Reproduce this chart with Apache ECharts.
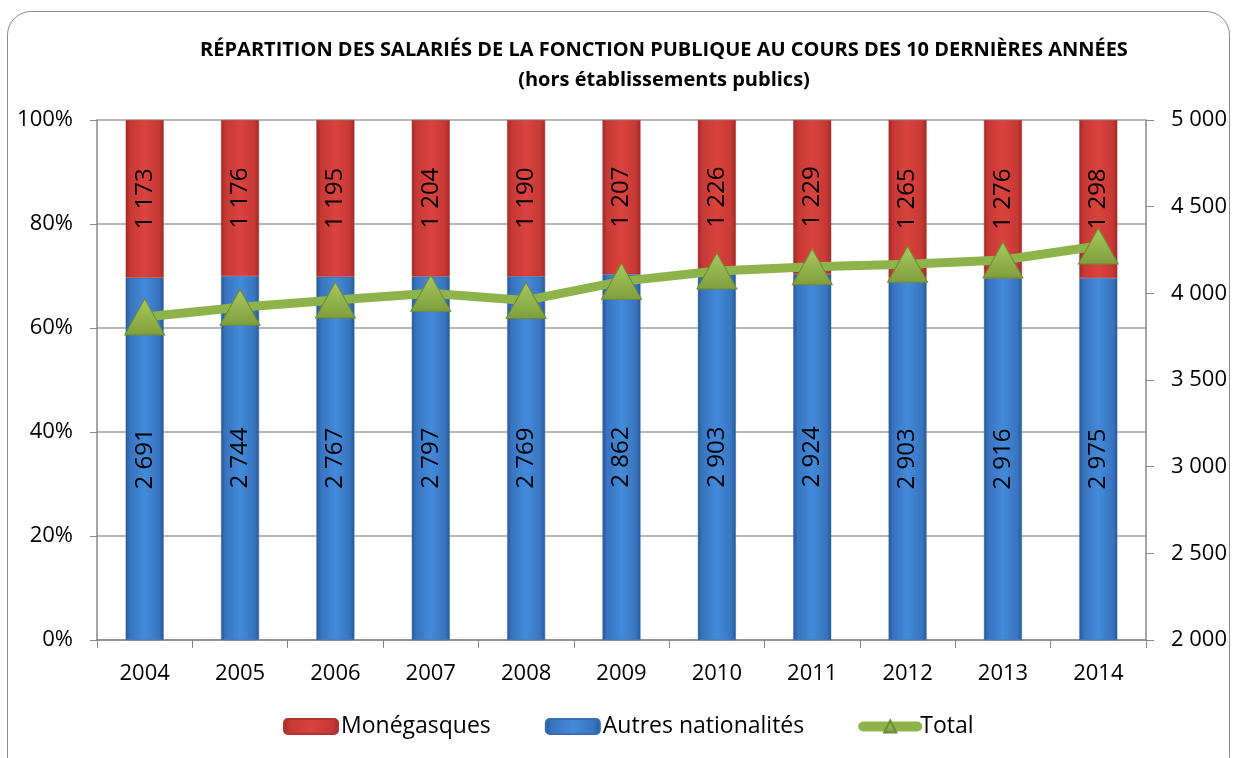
<!DOCTYPE html>
<html>
<head>
<meta charset="utf-8">
<script src="https://cdn.jsdelivr.net/npm/echarts@6/dist/echarts.min.js"></script>
<style>
  html, body { margin: 0; padding: 0; background: #fff; }
  #frame { position: absolute; left: 7px; top: 11px; width: 1223px; height: 770px;
           border: 1.5px solid #8c8c8c; border-radius: 24px; box-sizing: border-box; }
  #main { position: absolute; left: 0; top: 0; width: 1235px; height: 758px; }
</style>
</head>
<body>
<div id="frame"></div>
<div id="main"></div>
<script>
// données
var annees = ['2004', '2005', '2006', '2007', '2008', '2009', '2010', '2011', '2012', '2013', '2014'];
var monegasques = [1173, 1176, 1195, 1204, 1190, 1207, 1226, 1229, 1265, 1276, 1298];
var autres = [2691, 2744, 2767, 2797, 2769, 2862, 2903, 2924, 2903, 2916, 2975];

(function() {
	var total = [], partMon = [], partAutres = [];
	for (var i = 0; i < annees.length; i++) {
		total[i] = monegasques[i] + autres[i];
		partMon[i] = monegasques[i] / total[i] * 100;
		partAutres[i] = autres[i] / total[i] * 100;
	}

	//format "1 173"
	function espace(v) {
		return String(Math.round(v)).replace(/\B(?=(\d{3})+(?!\d))/g, ' ');
	}

	function barre(dark, mid, light) {
		return new echarts.graphic.LinearGradient(0, 0, 1, 0, [
			{ offset: 0, color: dark },
			{ offset: 0.12, color: mid },
			{ offset: 0.5, color: light },
			{ offset: 0.88, color: mid },
			{ offset: 1, color: dark }
		]);
	}

	var police = 'Open Sans';
	var chart = echarts.init(document.getElementById('main'));
	chart.setOption({
		backgroundColor: 'transparent',
		animation: false,
		title: {
			text: 'RÉPARTITION DES SALARIÉS DE LA FONCTION PUBLIQUE AU COURS DES 10 DERNIÈRES ANNÉES\n(hors établissements publics)',
			left: 659,
			top: 30,
			textAlign: 'center',
			textStyle: { fontFamily: police, fontWeight: 'bold', fontSize: 20, lineHeight: 30, color: '#000' }
		},
		legend: {
			top: 710,
			left: 278,
			itemGap: 54,
			itemWidth: 54,
			itemHeight: 15,
			textStyle: { fontFamily: police, fontSize: 23, color: '#000', padding: [0, 0, 0, -2] },
			data: [
				{ name: 'Monégasques' },
				{ name: 'Autres nationalités' },
				{ name: 'Total', lineStyle: { width: 10, cap: 'round' } }
			]
		},
		grid: { left: 97, right: 89, top: 120, bottom: 118 },
		xAxis: {
			type: 'category',
			data: annees,
			axisLine: { lineStyle: { color: '#888', width: 1.5 } },
			axisTick: { show: true, length: 8, lineStyle: { color: '#888' } },
			axisLabel: { fontFamily: police, fontSize: 22, color: '#000', margin: 23 }
		},
		yAxis: [{
			type: 'value',
			min: 0, max: 100, interval: 20,
			axisLine: { show: true, lineStyle: { color: '#888', width: 1.5 } },
			axisTick: { show: true, length: 7, lineStyle: { color: '#888' } },
			splitLine: { lineStyle: { color: '#a0a0a0', width: 1.5 } },
			axisLabel: { fontFamily: police, fontSize: 22, color: '#000', margin: 24, formatter: '{value}%' }
		}, {
			type: 'value',
			min: 2000, max: 5000, interval: 500,
			position: 'right',
			axisLine: { show: true, lineStyle: { color: '#888', width: 1.5 } },
			axisTick: { show: true, inside: false, length: 8, lineStyle: { color: '#888' } },
			splitLine: { show: false },
			axisLabel: { fontFamily: police, fontSize: 22, color: '#000', margin: 25, formatter: espace }
		}],
		series: [{
			name: 'Autres nationalités',
			type: 'bar',
			stack: 'p',
			barWidth: 38,
			data: partAutres,
			itemStyle: { color: barre('#285896', '#3874c0', '#438ad9'), borderColor: '#3a6eb0', borderWidth: 0.5 },
			label: {
				show: true, position: 'inside', rotate: 90,
				fontFamily: police, fontSize: 24, color: '#000',
				formatter: function(p) { return espace(autres[p.dataIndex]); }
			}
		}, {
			name: 'Monégasques',
			type: 'bar',
			stack: 'p',
			barWidth: 38,
			data: partMon,
			itemStyle: { color: barre('#a02927', '#c63834', '#da433e'), borderColor: '#b03431', borderWidth: 0.5 },
			label: {
				show: true, position: 'inside', rotate: 90,
				fontFamily: police, fontSize: 24, color: '#000',
				formatter: function(p) { return espace(monegasques[p.dataIndex]); }
			}
		}, {
			name: 'Total',
			type: 'line',
			yAxisIndex: 1,
			data: total,
			z: 5,
			lineStyle: { color: '#8db34a', width: 9 },
			symbol: 'triangle',
			symbolSize: [40, 36],
			itemStyle: {
				color: new echarts.graphic.LinearGradient(0, 0, 0, 1, [
					{ offset: 0, color: '#a9c95f' },
					{ offset: 1, color: '#7d9e3b' }
				]),
				borderColor: '#6d8a35',
				borderWidth: 1
			}
		}]
	});
})();
</script>
</body>
</html>
